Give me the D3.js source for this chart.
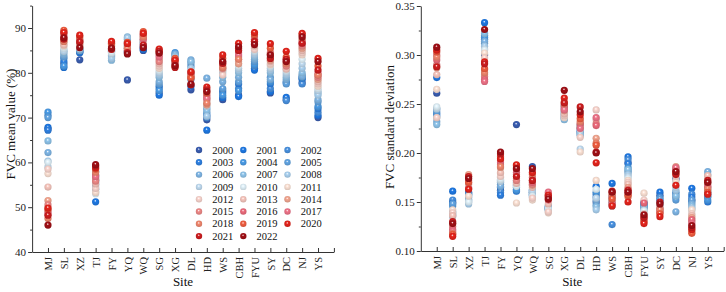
<!DOCTYPE html>
<html><head><meta charset="utf-8">
<script src="https://cdn.jsdelivr.net/npm/d3@7/dist/d3.min.js"></script>
<style>
html,body{margin:0;padding:0;background:#fff;}
svg{display:block;font-family:"Liberation Serif","Times New Roman",serif;}
</style></head>
<body><svg id="chart" width="726" height="292"></svg>
<script>
const sites = ["MJ","SL","XZ","TJ","FY","YQ","WQ","SG","XG","DL","HD","WS","CBH","FYU","SY","DC","NJ","YS"];
const years = [2000,2001,2002,2003,2004,2005,2006,2007,2008,2009,2010,2011,2012,2013,2014,2015,2016,2017,2018,2019,2020,2021,2022];
const yearColors = ["#3b5fb3","#1f7ae6","#4a93e2","#2f82e4","#4b9de8","#63a6e4","#80b7e7","#8fc5ec","#abd2f1","#c2ddf3","#e2f3fb",
  "#fde3d6","#fbd6cf","#f8c7be","#f4a791","#f08a88","#ee6b7c","#f07489","#f3886f","#f25e40","#e6241c","#cf1d1f","#a10f16"];
const meanTicks = [40,50,60,70,80,90];
const sdTicks = [0.10,0.15,0.20,0.25,0.30,0.35];

// FVC mean value (%) per site, years 2000..2022
const fvcMean = [
  [67.5,67.8,70.5,67.2,71.2,70.0,62.2,64.8,60.3,59.0,60.0,57.5,58.5,54.5,51.5,50.5,49.0,48.5,47.5,49.5,49.8,48.2,46.0], // MJ
  [82.0,81.2,83.2,82.5,81.5,83.5,84.0,84.5,85.0,84.8,85.5,86.0,86.5,86.2,87.0,88.0,88.5,89.0,87.0,89.5,89.0,87.5,87.8], // SL
  [82.9,84.5,84.8,84.6,84.9,85.2,85.0,85.3,85.5,85.4,85.6,85.8,86.0,86.2,86.5,86.8,87.2,87.5,87.0,88.0,88.4,86.9,85.6], // XZ
  [56.0,51.2,55.0,57.0,54.0,58.0,56.5,55.5,54.5,53.5,53.0,53.3,54.2,55.2,56.2,55.8,57.2,56.8,57.8,58.5,58.8,59.2,59.5], // TJ
  [85.0,84.8,83.5,84.0,83.8,84.5,83.5,82.8,83.2,84.2,84.5,85.2,85.5,85.8,86.0,86.3,86.5,86.8,86.0,86.6,87.0,85.2,85.5], // FY
  [78.4,84.5,85.5,84.8,86.0,87.0,87.5,88.0,87.8,86.5,86.0,85.5,85.8,85.2,85.0,86.2,86.5,85.0,85.5,86.8,86.5,84.5,84.2], // YQ
  [85.0,85.2,85.8,85.5,86.5,86.0,87.0,86.8,87.2,87.5,87.0,87.2,86.8,87.5,88.0,88.3,88.5,87.5,88.0,89.2,88.8,86.2,85.6], // WQ
  [75.5,75.0,76.5,77.0,76.0,77.5,78.0,79.0,79.5,80.0,80.5,81.0,81.5,82.0,83.0,82.5,84.0,83.5,84.5,85.0,85.3,84.8,84.4], // SG
  [82.5,82.0,83.0,82.8,84.5,84.0,84.2,83.8,83.5,83.0,82.8,82.5,82.0,81.8,82.2,82.5,83.0,82.0,81.5,83.2,82.8,81.2,81.6], // XG
  [76.2,77.0,78.5,80.0,81.5,82.2,82.9,82.5,81.0,80.5,80.0,79.5,79.0,79.5,80.2,79.0,79.8,80.0,79.2,78.8,80.2,77.3,77.5], // DL
  [69.5,67.2,70.0,70.5,71.0,72.0,78.8,71.5,70.3,72.5,73.0,73.5,74.0,73.8,72.8,74.5,75.0,74.2,73.2,75.5,76.8,76.2,75.8], // HD
  [74.0,74.5,75.5,76.0,75.0,76.5,78.0,79.0,80.0,80.5,81.0,80.5,79.5,80.8,81.5,81.0,82.5,82.0,81.2,83.2,84.0,82.1,82.5], // WS
  [75.0,74.7,76.5,77.5,76.0,78.0,79.0,80.0,80.5,81.0,81.5,82.0,82.5,83.0,82.0,83.5,84.5,84.0,83.0,85.5,86.6,85.0,85.8], // CBH
  [81.0,80.6,81.5,82.0,81.8,82.5,83.0,83.5,84.0,84.5,85.0,85.5,85.2,86.0,86.5,87.0,87.5,88.0,87.0,88.5,89.0,87.0,86.3], // FYU
  [75.5,75.8,76.5,77.5,78.0,79.0,78.5,80.0,80.5,81.0,81.5,81.8,82.0,82.5,82.8,83.5,84.0,84.5,84.2,85.5,86.5,83.2,84.0], // SY
  [74.0,74.5,73.8,77.8,78.0,77.5,78.5,79.0,79.5,80.0,80.5,81.0,81.5,80.8,82.0,81.5,82.5,83.0,82.0,83.5,84.8,83.0,82.5], // DC
  [77.8,78.5,77.5,78.8,79.0,79.5,79.2,80.0,81.0,82.0,83.0,84.0,84.5,85.0,85.5,86.0,86.5,87.0,87.5,88.5,88.8,86.6,88.0], // NJ
  [70.0,70.5,71.2,72.0,72.5,73.5,74.0,75.5,75.0,76.0,76.5,77.0,77.5,78.0,78.5,79.0,79.5,80.0,79.5,81.5,83.2,80.6,82.5]  // YS
];

// FVC standard deviation per site, years 2000..2022
const fvcSD = [
  [0.261,0.277,0.245,0.240,0.238,0.242,0.232,0.229,0.236,0.245,0.247,0.265,0.236,0.280,0.287,0.290,0.295,0.300,0.298,0.303,0.305,0.288,0.308], // MJ
  [0.150,0.161,0.152,0.149,0.146,0.148,0.140,0.138,0.136,0.135,0.137,0.142,0.139,0.136,0.128,0.125,0.122,0.120,0.118,0.117,0.115,0.130,0.128], // SL
  [0.160,0.158,0.159,0.155,0.152,0.157,0.150,0.153,0.148,0.151,0.150,0.156,0.165,0.168,0.178,0.170,0.164,0.172,0.176,0.170,0.163,0.176,0.174], // XZ
  [0.300,0.333,0.320,0.316,0.318,0.312,0.314,0.322,0.309,0.306,0.305,0.302,0.297,0.280,0.285,0.278,0.275,0.273,0.282,0.286,0.293,0.291,0.326], // TJ
  [0.162,0.165,0.160,0.157,0.168,0.170,0.166,0.172,0.175,0.171,0.173,0.179,0.176,0.180,0.185,0.188,0.190,0.192,0.186,0.196,0.194,0.199,0.201], // FY
  [0.229,0.161,0.163,0.165,0.162,0.167,0.170,0.172,0.168,0.171,0.166,0.149,0.174,0.169,0.178,0.172,0.180,0.183,0.185,0.187,0.188,0.176,0.184], // YQ
  [0.186,0.160,0.158,0.162,0.157,0.155,0.160,0.163,0.159,0.161,0.156,0.152,0.154,0.165,0.167,0.168,0.170,0.175,0.178,0.172,0.180,0.172,0.184], // WQ
  [0.143,0.145,0.142,0.144,0.146,0.143,0.145,0.142,0.144,0.141,0.143,0.139,0.140,0.148,0.155,0.158,0.152,0.160,0.156,0.153,0.157,0.155,0.153], // SG
  [0.245,0.248,0.242,0.240,0.238,0.236,0.235,0.234,0.237,0.239,0.241,0.236,0.238,0.240,0.243,0.246,0.248,0.244,0.250,0.252,0.256,0.251,0.264], // XG
  [0.225,0.222,0.228,0.220,0.223,0.226,0.218,0.221,0.219,0.204,0.224,0.201,0.216,0.227,0.226,0.229,0.230,0.225,0.232,0.235,0.239,0.247,0.242], // DL
  [0.150,0.166,0.158,0.155,0.160,0.147,0.152,0.145,0.142,0.154,0.163,0.172,0.244,0.234,0.215,0.230,0.228,0.236,0.210,0.208,0.190,0.201,0.200], // HD
  [0.150,0.169,0.127,0.152,0.155,0.148,0.153,0.146,0.150,0.149,0.151,0.152,0.154,0.147,0.157,0.150,0.155,0.148,0.158,0.153,0.146,0.161,0.160], // WS
  [0.190,0.196,0.193,0.189,0.185,0.182,0.180,0.183,0.178,0.176,0.174,0.172,0.170,0.168,0.165,0.163,0.158,0.160,0.155,0.157,0.150,0.162,0.160], // CBH
  [0.150,0.148,0.146,0.145,0.147,0.144,0.143,0.145,0.142,0.140,0.141,0.159,0.152,0.138,0.136,0.135,0.149,0.133,0.131,0.130,0.128,0.134,0.137], // FYU
  [0.157,0.160,0.155,0.152,0.150,0.153,0.148,0.146,0.149,0.147,0.145,0.144,0.143,0.146,0.141,0.139,0.143,0.140,0.142,0.138,0.135,0.150,0.148], // SY
  [0.174,0.173,0.160,0.155,0.158,0.152,0.140,0.156,0.162,0.165,0.170,0.172,0.176,0.184,0.186,0.183,0.182,0.185,0.179,0.180,0.167,0.178,0.181], // DC
  [0.152,0.164,0.158,0.155,0.150,0.152,0.148,0.146,0.144,0.143,0.141,0.142,0.138,0.136,0.134,0.130,0.132,0.128,0.120,0.118,0.122,0.124,0.126], // NJ
  [0.155,0.158,0.160,0.150,0.152,0.156,0.181,0.178,0.162,0.164,0.170,0.176,0.174,0.177,0.168,0.170,0.165,0.166,0.163,0.160,0.158,0.172,0.170]  // YS
];

const svg = d3.select("#chart");
const defs = svg.append("defs");
yearColors.forEach((c, i) => {
  const g = defs.append("radialGradient").attr("id", "ball" + i)
    .attr("cx", "50%").attr("cy", "45%").attr("r", "60%").attr("fx", "45%").attr("fy", "35%");
  g.append("stop").attr("offset", "0%").attr("stop-color", "#ffffff").attr("stop-opacity", 0.95);
  g.append("stop").attr("offset", "28%").attr("stop-color", c);
  g.append("stop").attr("offset", "100%").attr("stop-color", d3.color(c).darker(0.5));
});

const axisColor = "#333";

function panel(opts) {
  const g = svg.append("g");
  const x = d3.scaleLinear().domain([0, 19]).range([opts.x0, opts.x1]);
  const y = d3.scaleLinear().domain(opts.domain).range([opts.yb, opts.yt]);

  // points: draw by year so later years sit on top
  years.forEach((yr, yi) => {
    g.append("g").selectAll("circle")
      .data(sites.map((s, si) => ({ si, v: opts.data[si][yi] })).filter(d => d.v != null))
      .join("circle")
      .attr("cx", d => x(d.si + 1))
      .attr("cy", d => y(d.v))
      .attr("r", 3.6)
      .attr("fill", "url(#ball" + yi + ")");
  });

  // y axis
  const ya = g.append("g").attr("transform", `translate(${opts.x0},0)`)
    .call(d3.axisLeft(y).tickValues(opts.ticks).tickFormat(opts.fmt).tickSize(4).tickSizeOuter(0).tickPadding(2));
  const yminor = g.append("g").attr("transform", `translate(${opts.x0},0)`)
    .call(d3.axisLeft(y).tickValues(opts.minor).tickFormat("").tickSize(2).tickSizeOuter(0));
  yminor.select(".domain").remove();

  // x axis
  const xa = g.append("g").attr("transform", `translate(0,${opts.yb})`)
    .call(d3.axisBottom(x).tickValues(d3.range(1, 20)).tickFormat(i => sites[i - 1] || "").tickSize(-4).tickSizeOuter(0));
  xa.selectAll(".tick text")
    .attr("transform", "rotate(-90)")
    .attr("x", -5).attr("y", 0).attr("dy", "0.35em")
    .style("text-anchor", "end");

  [ya, yminor, xa].forEach(a => {
    a.selectAll("path,line").attr("stroke", axisColor).attr("stroke-width", 1);
    a.selectAll("text").attr("fill", "#222").style("font-size", "11px")
      .style("font-family", '"Liberation Serif","Times New Roman",serif');
  });
  xa.selectAll("text").style("font-size", "10.5px");

  // titles
  g.append("text").attr("x", (opts.x0 + opts.x1) / 2).attr("y", 286)
    .attr("text-anchor", "middle").style("font-size", "13px").attr("fill", "#111").text("Site");
  g.append("text").attr("transform", `translate(${opts.titleX},${opts.titleY}) rotate(-90)`)
    .attr("text-anchor", "middle").attr("dy", "0.35em").style("font-size", "13px").attr("fill", "#111").text(opts.title);
  return { x, y, g };
}

panel({
  x0: 32.1, x1: 333.9, yb: 252, yt: 5.6, domain: [40, 95],
  ticks: meanTicks, minor: [45, 55, 65, 75, 85, 95], fmt: d3.format("d"),
  data: fvcMean, title: "FVC mean value (%)", titleX: 10, titleY: 124
});
panel({
  x0: 420.8, x1: 723.7, yb: 251, yt: 6, domain: [0.10, 0.35],
  ticks: sdTicks, minor: [0.125, 0.175, 0.225, 0.275, 0.325], fmt: d3.format(".2f"),
  data: fvcSD, title: "FVC standard deviation", titleX: 389, titleY: 127
});

// legend (3 columns, row-major)
const leg = svg.append("g");
const colX = [199, 243.3, 287.5];
years.forEach((yr, i) => {
  const r = Math.floor(i / 3), c = i % 3;
  const cy = 150 + r * 12.3;
  leg.append("circle").attr("cx", colX[c]).attr("cy", cy).attr("r", 3.2).attr("fill", "url(#ball" + i + ")");
  leg.append("text").attr("x", colX[c] + 13.3).attr("y", cy).attr("dy", "0.35em")
    .style("font-size", "10.5px").attr("fill", "#111").text(yr);
});
</script></body></html>
